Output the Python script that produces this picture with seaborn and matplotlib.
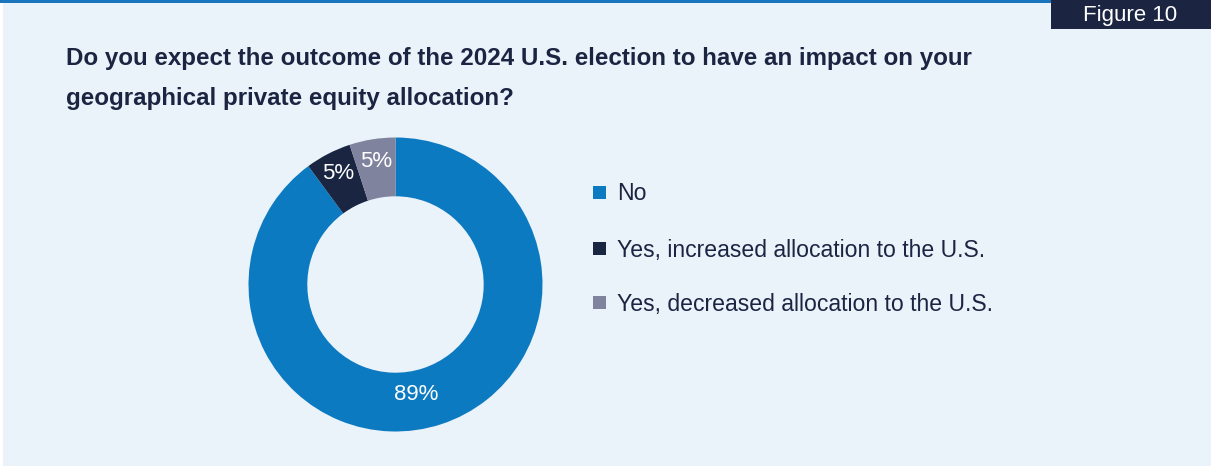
import matplotlib
matplotlib.use("Agg")
import matplotlib.pyplot as plt
from matplotlib.patches import Rectangle
import seaborn as sns

# Survey responses
categories = ["No", "Yes, increased allocation to the U.S.", "Yes, decreased allocation to the U.S."]
shares = [89, 5, 5]
share_labels = ["89%", "5%", "5%"]

title_lines = ["Do you expect the outcome of the 2024 U.S. election to have an impact on your",
               "geographical private equity allocation?"]
figure_tag = "Figure 10"

sns.set_theme(style="white")
plt.rcParams["font.family"] = ["Liberation Sans", "DejaVu Sans"]

palette = sns.color_palette(["#0C7AC1", "#1A2541", "#7F839D"])
panel_bg = "#EAF2FA"
navy = "#1B2542"

W, H = 1211, 468
fig = plt.figure(figsize=(W / 100, H / 100), dpi=100)
fig.patch.set_facecolor("white")

# background panel, top rule and figure tag
fig.patches.append(Rectangle((3 / W, 2 / H), (W - 3) / W, (H - 2) / H,
                             transform=fig.transFigure, facecolor=panel_bg,
                             edgecolor="none", zorder=-2))
fig.patches.append(Rectangle((0, (H - 3) / H), 1, 3 / H, transform=fig.transFigure,
                             facecolor="#1B75BC", edgecolor="none", zorder=-1))
fig.patches.append(Rectangle((1051 / W, (H - 29) / H), (W - 1051) / W, 29 / H,
                             transform=fig.transFigure, facecolor=navy,
                             edgecolor="none", zorder=2))
fig.text(1130 / W, (H - 15) / H, figure_tag, color="white", fontsize=16,
         ha="center", va="center", zorder=3)

for line, y in zip(title_lines, [59, 98]):
    fig.text(66 / W, (H - y) / H, line, color=navy, fontsize=17.4,
             fontweight="bold", ha="left", va="center")

# donut chart
cx, cy, r = 395.5, 284.5, 147
ax = fig.add_axes([(cx - r) / W, (H - cy - r) / H, 2 * r / W, 2 * r / H])
ax.set_zorder(5)
ax.set_facecolor("none")
wedges, _, autotexts = ax.pie(
    shares, colors=palette, startangle=90, counterclock=False,
    wedgeprops=dict(width=0.40, linewidth=0),
    autopct=lambda p: "", pctdistance=0.85,
)
for t, lab in zip(autotexts, share_labels):
    t.set_text(lab)
    t.set_color("white")
    t.set_fontsize(16)
autotexts[0].set_position((0.14, -0.745))
ax.set_xlim(-1, 1)
ax.set_ylim(-1, 1)
ax.set_aspect("auto")
ax.axis("off")

# legend
legend_y = [192, 248, 302]
for color, label, y in zip(palette, categories, legend_y):
    fig.patches.append(Rectangle((593 / W, (H - y - 6.5) / H), 13 / W, 13 / H,
                                 transform=fig.transFigure, facecolor=color,
                                 edgecolor="none", zorder=2))
    fig.text(617 / W, (H - y - 2) / H, label, color=navy, fontsize=16.6,
             ha="left", va="center")

fig.savefig("out.png", dpi=100, facecolor=fig.get_facecolor())
